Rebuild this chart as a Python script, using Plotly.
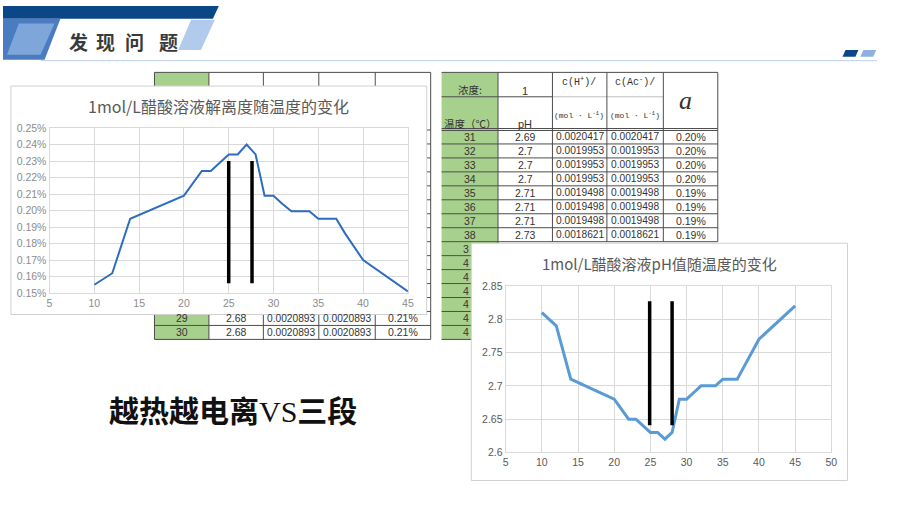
import plotly.graph_objects as go

# ---------------- data ----------------
temps_alpha = [10, 12, 14, 20, 22, 23, 25, 26, 27, 28, 29, 30, 31, 32, 33, 34, 35, 36, 37, 38, 40, 45]
alpha = [0.00155, 0.00162, 0.00195, 0.00209, 0.00224, 0.00224, 0.00234, 0.00234, 0.00240, 0.00234,
         0.00209, 0.00209, 0.00204, 0.001995, 0.001995, 0.001995, 0.00195, 0.00195, 0.00195, 0.00186,
         0.00170, 0.00151]

temps_ph = [10, 12, 14, 20, 22, 23, 25, 26, 27, 28, 29, 30, 31, 32, 33, 34, 35, 36, 37, 38, 40, 45]
ph = [2.81, 2.79, 2.71, 2.68, 2.65, 2.65, 2.63, 2.63, 2.62, 2.63, 2.68, 2.68, 2.69, 2.70, 2.70, 2.70,
      2.71, 2.71, 2.71, 2.73, 2.77, 2.82]

marks1_x = [25, 27.6]
marks1_y = [0.00156, 0.0023]
marks2_x = [24.9, 28.0]
marks2_y = [2.641, 2.827]

tbl_temps = ["31", "32", "33", "34", "35", "36", "37", "38"]
tbl_ph = ["2.69", "2.7", "2.7", "2.7", "2.71", "2.71", "2.71", "2.73"]
tbl_c = ["0.0020417", "0.0019953", "0.0019953", "0.0019953", "0.0019498", "0.0019498", "0.0019498", "0.0018621"]
tbl_a = ["0.20%", "0.20%", "0.20%", "0.20%", "0.19%", "0.19%", "0.19%", "0.19%"]
tbl_hidden_temps = ["39", "40", "41", "42", "43", "44", "45"]

left_temps = ["29", "30"]
left_ph = ["2.68", "2.68"]
left_c = ["0.0020893", "0.0020893"]
left_a = ["0.21%", "0.21%"]

title1 = "1mol/L醋酸溶液解离度随温度的变化"
title2 = "1mol/L醋酸溶液pH值随温度的变化"
header_chars = ["发", "现", "问", "题"]
slogan_a, slogan_b, slogan_c = "越热越电离", "VS", "三段"

# ---------------- helpers ----------------
W, H = 900, 506
def X(px):
    return px / W
def Y(py):
    return 1 - py / H

shapes = []
annos = []

def rect(x0, y0, x1, y1, fill=None, line=None, lw=1, layer="below"):
    shapes.append(dict(type="rect", xref="paper", yref="paper", x0=X(x0), x1=X(x1), y0=Y(y1), y1=Y(y0),
                       fillcolor=fill if fill else "rgba(0,0,0,0)",
                       line=dict(color=line if line else "rgba(0,0,0,0)", width=lw if line else 0),
                       layer=layer))

def hline(x0, x1, y, color, lw=1, layer="below"):
    shapes.append(dict(type="line", xref="paper", yref="paper", x0=X(x0), x1=X(x1), y0=Y(y), y1=Y(y),
                       line=dict(color=color, width=lw), layer=layer))

def vline(x, y0, y1, color, lw=1, layer="below"):
    shapes.append(dict(type="line", xref="paper", yref="paper", x0=X(x), x1=X(x), y0=Y(y0), y1=Y(y1),
                       line=dict(color=color, width=lw), layer=layer))

def poly(pts, fill, layer="below"):
    p = "M " + " L ".join(f"{X(a):.5f},{Y(b):.5f}" for a, b in pts) + " Z"
    shapes.append(dict(type="path", xref="paper", yref="paper", path=p, fillcolor=fill,
                       line=dict(width=0), layer=layer))

def text(x, y, s, size=11, color="#333333", family="Liberation Sans", xanchor="center", yanchor="middle"):
    annos.append(dict(x=X(x), y=Y(y), xref="paper", yref="paper", text=s, showarrow=False,
                      font=dict(size=size, color=color, family=family), xanchor=xanchor, yanchor=yanchor))

GREEN = "#a8d08d"
GRID = "#4d4d4d"

# ---------------- header banner ----------------
poly([(0, 0), (218, 0), (212, 13), (0, 13)], "#0b4787")
poly([(0, 13), (58, 13), (42, 55), (0, 55)], "#4b7cc2")
poly([(16, 18), (52, 18), (38, 50), (4, 50)], "#7fa6da")
poly([(190, 14), (214, 14), (200, 45), (177, 45)], "#b0cbec")
hline(38, 883, 56, "#bcd0ea", 1)
poly([(851, 45), (864, 45), (861, 52), (848, 52)], "#0b4787")
poly([(869, 45), (882, 45), (879, 52), (866, 52)], "#8fb1df")
for ch, cx in zip(header_chars, [76, 104, 133, 167]):
    text(cx, 36, "<b>" + ch + "</b>", size=19, color="#3a3a3a", family="Noto Sans CJK SC")

# ---------------- left table (behind chart 1) ----------------
lcols = [153, 208, 263, 319, 376, 432]
rtop = 127
rh = 14.3
rect(153, 68, 208, 342, fill=GREEN)
for k in range(16):
    hline(153, 432, rtop + rh * k, GRID, 1)
hline(153, 432, 68, GRID, 1)
for c in lcols:
    vline(c, 68, rtop + rh * 15, GRID, 1)
for i, (t, p, c, a) in enumerate(zip(left_temps, left_ph, left_c, left_a)):
    yc = rtop + rh * (13 + i) + rh / 2
    text((lcols[0] + lcols[1]) / 2, yc, t, 10.5)
    text((lcols[1] + lcols[2]) / 2, yc, p, 10.5)
    text((lcols[2] + lcols[3]) / 2, yc, c, 10.2)
    text((lcols[3] + lcols[4]) / 2, yc, c, 10.2)
    text((lcols[4] + lcols[5]) / 2, yc, a, 10.5)

# ---------------- right table ----------------
rcols = [443, 500, 555, 610, 667, 722]
rect(443, 68, 500, 342, fill=GREEN)
hline(443, 722, 68, GRID, 1)
hline(443, 555, 93, GRID, 1)
hline(555, 667, 93, "#bfbfbf", 1)
hline(443, 722, 125.5, GRID, 1)
hline(443, 722, 127.5, GRID, 1)
for k in range(1, 9):
    hline(443, 722, rtop + rh * k, GRID, 1)
for k in range(9, 16):
    hline(443, 500, rtop + rh * k, GRID, 1)
for c in rcols[1:]:
    vline(c, 68, 241.4, GRID, 1)
vline(500, 241.4, 342, GRID, 1)

text(472, 86, "浓度:", 10.5, family="Noto Sans CJK SC")
text(527, 87, "1", 11)
text(582, 77, "c(H<sup>+</sup>)/", 10, family="Liberation Mono")
text(638, 77, "c(Ac<sup>-</sup>)/", 10, family="Liberation Mono")
text(582, 112, "(mol · L<sup>-1</sup>)", 8, family="Liberation Mono")
text(638, 112, "(mol · L<sup>-1</sup>)", 8, family="Liberation Mono")
text(689, 97, "<i>a</i>", 26, family="Liberation Serif")
text(443, 120, "温度（℃）", 10.5, family="Noto Sans CJK SC", xanchor="left")
text(527, 121, "pH", 11)
for i, (t, p, c, a) in enumerate(zip(tbl_temps, tbl_ph, tbl_c, tbl_a)):
    yc = rtop + rh * i + rh / 2
    text((rcols[0] + rcols[1]) / 2, yc, t, 10.5)
    text((rcols[1] + rcols[2]) / 2, yc, p, 10.5)
    text((rcols[2] + rcols[3]) / 2, yc, c, 10.2)
    text((rcols[3] + rcols[4]) / 2, yc, c, 10.2)
    text((rcols[4] + rcols[5]) / 2, yc, a, 10.5)
for j, t in enumerate(tbl_hidden_temps):
    yc = rtop + rh * (8 + j) + rh / 2
    text(473, yc, t[0], 10.5, xanchor="right")

# ---------------- chart boxes ----------------
rect(8, 82, 428, 316, fill="white", line="#d0d0d0", lw=1)
rect(473, 243, 853, 486, fill="white", line="#d0d0d0", lw=1)

# vertical black markers
for xv in marks1_x:
    shapes.append(dict(type="line", xref="x", yref="y", x0=xv, x1=xv, y0=marks1_y[0], y1=marks1_y[1],
                       line=dict(color="black", width=3.5), layer="above"))
for xv in marks2_x:
    shapes.append(dict(type="line", xref="x2", yref="y2", x0=xv, x1=xv, y0=marks2_y[0], y1=marks2_y[1],
                       line=dict(color="black", width=3.5), layer="above"))

# titles and slogan
text(218, 102, title1, 16, color="#595959", family="Noto Sans CJK SC")
text(663, 264, title2, 15, color="#595959", family="Noto Sans CJK SC")
slogan = ("<b>" + slogan_a + "</b><span style='font-family:Liberation Serif'>" + slogan_b +
          "</span><b>" + slogan_c + "</b>")
text(232, 413, slogan, 30, color="#111111", family="Noto Sans CJK SC")

# ---------------- figure ----------------
fig = go.Figure()
fig.add_trace(go.Scatter(x=temps_alpha, y=alpha, mode="lines", line=dict(color="#2e6cbf", width=2),
                         xaxis="x", yaxis="y", hoverinfo="skip"))
fig.add_trace(go.Scatter(x=temps_ph, y=ph, mode="lines", line=dict(color="#5b9bd5", width=3),
                         xaxis="x2", yaxis="y2", hoverinfo="skip"))

axis_common = dict(showgrid=True, gridcolor="#d9d9d9", gridwidth=1, zeroline=False, showline=True,
                   linecolor="#d9d9d9", mirror=True, ticks="", fixedrange=True)

fig.update_layout(
    width=W, height=H,
    margin=dict(l=0, r=0, t=0, b=0),
    paper_bgcolor="white", plot_bgcolor="white",
    showlegend=False,
    xaxis=dict(domain=[X(47), X(409)], range=[5, 45], tick0=5, dtick=5, anchor="y",
               tickfont=dict(size=10.5, color="#8c8c8c", family="Liberation Sans"), **axis_common),
    yaxis=dict(domain=[Y(294), Y(125)], range=[0.0015, 0.0025], tick0=0.0015, dtick=0.0001,
               tickformat=".2%", anchor="x",
               tickfont=dict(size=10.5, color="#8c8c8c", family="Liberation Sans"), **axis_common),
    xaxis2=dict(domain=[X(507.7), X(836.7)], range=[5, 50], tick0=5, dtick=5, anchor="y2",
                tickfont=dict(size=10.5, color="#595959", family="Liberation Sans"), **axis_common),
    yaxis2=dict(domain=[Y(457.3), Y(286.7)], range=[2.6, 2.85], tick0=2.6, dtick=0.05, anchor="x2",
                tickfont=dict(size=10.5, color="#595959", family="Liberation Sans"), **axis_common),
    shapes=shapes,
    annotations=annos,
)

fig.write_html("out.html", config={"displayModeBar": False},
               post_script="document.body.style.margin='0';document.body.style.overflow='hidden';")
